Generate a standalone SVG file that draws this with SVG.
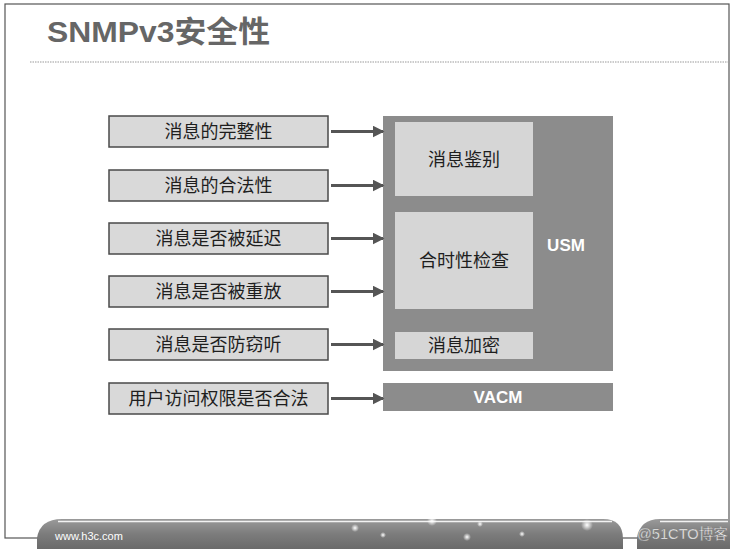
<svg xmlns="http://www.w3.org/2000/svg" width="739" height="549" viewBox="0 0 739 549">
<style>
.box{fill:#d9d9d9;stroke:#4a4a4a;stroke-width:1.5}
.lbl{font-family:"Noto Sans CJK SC","Liberation Sans",sans-serif;font-size:18px;fill:#1e1e1e;text-anchor:middle}
.outer{fill:#8c8c8c}
.inner{fill:#d6d6d6}
.big{font-family:"Liberation Sans",Arial,sans-serif;font-weight:bold;font-size:17px;fill:#ffffff;text-anchor:middle}
.arr{stroke:#555;stroke-width:3;fill:none;marker-end:url(#ah)}
</style>
<defs>
<marker id="ah" markerWidth="4" markerHeight="4" refX="3.5" refY="2" orient="auto" markerUnits="strokeWidth">
<path d="M0,0 L4,2 L0,4 z" fill="#555"/>
</marker>
<linearGradient id="fg" x1="0" y1="0" x2="0" y2="1">
<stop offset="0" stop-color="#9a9a9a"/>
<stop offset="0.5" stop-color="#7c7c7c"/>
<stop offset="1" stop-color="#6a6a6a"/>
</linearGradient>
<radialGradient id="sp">
<stop offset="0" stop-color="#ffffff"/>
<stop offset="1" stop-color="#ffffff" stop-opacity="0"/>
</radialGradient>
</defs>
<rect width="739" height="549" fill="#ffffff"/>
<rect x="5" y="4" width="724" height="534" fill="none" stroke="#555" stroke-width="1.2"/>
<g id="title">
<text x="47" y="42" font-family="Liberation Sans,'Noto Sans CJK SC',sans-serif" font-weight="bold" font-size="30" fill="#666666" textLength="223" lengthAdjust="spacingAndGlyphs">SNMPv3安全性</text>
<line x1="30" y1="62" x2="729" y2="62" stroke="#9a9a9a" stroke-width="1.2" stroke-dasharray="1.5 1"/>
</g>
<g id="usm">
<rect class="outer" x="383" y="116" width="230" height="255"/>
<text class="big" x="566" y="251">USM</text>
</g>
<g id="auth">
<rect class="inner" x="395" y="122" width="138" height="74"/>
<text class="lbl" x="464" y="166">消息鉴别</text>
</g>
<g id="timeliness">
<rect class="inner" x="395" y="212" width="138" height="97"/>
<text class="lbl" x="464" y="267">合时性检查</text>
</g>
<g id="encrypt">
<rect class="inner" x="395" y="332" width="138" height="27"/>
<text class="lbl" x="464" y="352">消息加密</text>
</g>
<g id="vacm">
<rect class="outer" x="383" y="383" width="230" height="28"/>
<text class="big" x="498" y="403">VACM</text>
</g>
<g id="n1"><rect class="box" x="109" y="116" width="219" height="31"/><text class="lbl" x="218.5" y="138">消息的完整性</text></g>
<g id="n2"><rect class="box" x="109" y="170" width="219" height="31"/><text class="lbl" x="218.5" y="192">消息的合法性</text></g>
<g id="n3"><rect class="box" x="109" y="223" width="219" height="31"/><text class="lbl" x="218.5" y="245">消息是否被延迟</text></g>
<g id="n4"><rect class="box" x="109" y="276" width="219" height="31"/><text class="lbl" x="218.5" y="298">消息是否被重放</text></g>
<g id="n5"><rect class="box" x="109" y="329" width="219" height="31"/><text class="lbl" x="218.5" y="351">消息是否防窃听</text></g>
<g id="n6"><rect class="box" x="109" y="383" width="219" height="31"/><text class="lbl" x="218.5" y="405">用户访问权限是否合法</text></g>
<g id="connectors">
<line class="arr" x1="331" y1="131.5" x2="383" y2="131.5"/>
<line class="arr" x1="331" y1="185.5" x2="383" y2="185.5"/>
<line class="arr" x1="331" y1="238.5" x2="383" y2="238.5"/>
<line class="arr" x1="331" y1="291.5" x2="383" y2="291.5"/>
<line class="arr" x1="331" y1="344.5" x2="383" y2="344.5"/>
<line class="arr" x1="331" y1="398.5" x2="383" y2="398.5"/>
</g>
<g id="footer">
<path d="M37,549 L37,538 Q40,519 62,519 L603,519 Q623,519 623,539 L623,549 Z" fill="url(#fg)"/>
<path d="M637,549 L637,538 Q640,519 660,519 L730,519 L730,549 Z" fill="url(#fg)"/>
<line x1="58" y1="521.5" x2="612" y2="521.5" stroke="#f2f2f2" stroke-width="1.5"/>
<line x1="660" y1="521.5" x2="728" y2="521.5" stroke="#f2f2f2" stroke-width="1.5"/>
<circle cx="432" cy="521" r="5" fill="url(#sp)"/>
<circle cx="355" cy="528" r="4" fill="url(#sp)"/>
<circle cx="383" cy="535" r="3" fill="url(#sp)"/>
<circle cx="467" cy="537" r="4" fill="url(#sp)"/>
<circle cx="480" cy="524" r="3" fill="url(#sp)"/>
<circle cx="522" cy="534" r="3" fill="url(#sp)"/>
<circle cx="587" cy="525" r="6" fill="url(#sp)"/>
<text x="55" y="540" font-family="Liberation Sans,Arial,sans-serif" font-size="11" fill="#ffffff">www.h3c.com</text>
<text x="637" y="539" font-family="Liberation Sans,'Noto Sans CJK SC',sans-serif" font-size="14.5" fill="#ffffff" stroke="#777" stroke-width="0.4" textLength="91" lengthAdjust="spacingAndGlyphs">@51CTO博客</text>
</g>
</svg>
